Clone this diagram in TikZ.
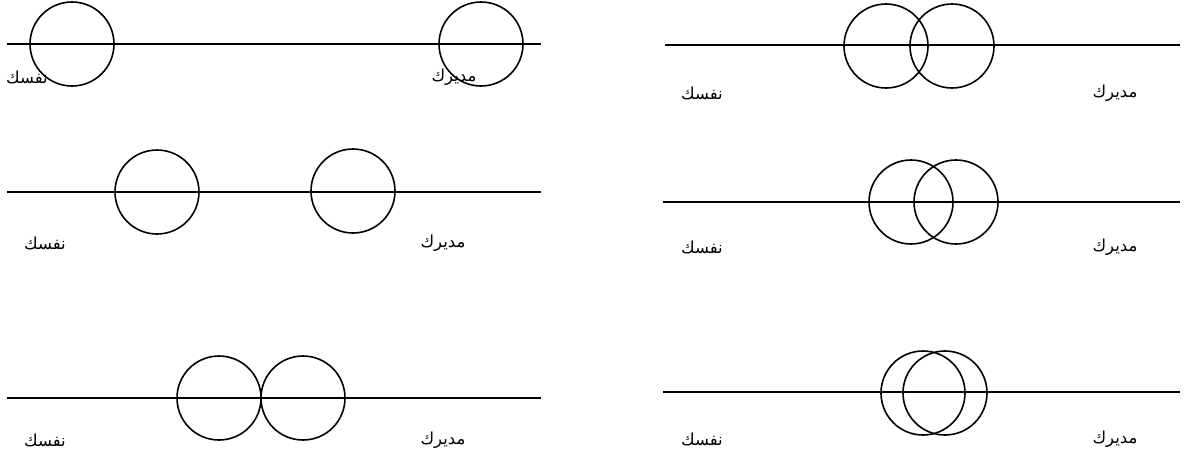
\documentclass[tikz,border=0pt]{standalone}
\usepackage{fontspec}
\newfontfamily\arabicfont[Script=Arabic]{DejaVu Sans}
\TeXXeTstate=1
\usepackage{tikz}
\usetikzlibrary{positioning}

\begin{document}
\begin{tikzpicture}[
  x=1pt,y=-1pt,
  ring/.style={circle,draw,line width=1.6pt,minimum size=84pt,inner sep=0pt},
  axis/.style={line width=1.6pt},
  lbl/.style={font=\arabicfont\fontsize{16.5}{18}\selectfont,inner sep=0pt}
]
\useasboundingbox (0,0) rectangle (1193,451);

% top left: far apart
\coordinate (tlA) at (7,44);
\coordinate (tlB) at (541,44);
\draw[axis] (tlA) -- (tlB);
\node[ring] (tlSelf) at (72,44) {};
\node[ring] (tlBoss) at (481,44) {};
\node[lbl] (tlSelfTxt) at (27,77) {\beginR نفسك\endR};
\node[lbl] (tlBossTxt) at (454,77) {\beginR مديرك\endR};

% middle left
\coordinate (mlA) at (7,192);
\coordinate (mlB) at (541,192);
\draw[axis] (mlA) -- (mlB);
\node[ring] (mlSelf) at (157,192) {};
\node[ring] (mlBoss) at (353,191) {};
\node[lbl] (mlSelfTxt) at (45,243) {\beginR نفسك\endR};
\node[lbl] (mlBossTxt) at (443,243) {\beginR مديرك\endR};

% bottom left: touching
\coordinate (blA) at (7,398);
\coordinate (blB) at (541,398);
\draw[axis] (blA) -- (blB);
\node[ring] (blSelf) at (219,398) {};
\node[ring] (blBoss) at (303,398) {};
\node[lbl] (blSelfTxt) at (45,440) {\beginR نفسك\endR};
\node[lbl] (blBossTxt) at (443,440) {\beginR مديرك\endR};

% top right: small overlap
\coordinate (trA) at (665,45);
\coordinate (trB) at (1180,45);
\draw[axis] (trA) -- (trB);
\node[ring] (trSelf) at (886,46) {};
\node[ring] (trBoss) at (952,46) {};
\node[lbl] (trSelfTxt) at (702,93) {\beginR نفسك\endR};
\node[lbl] (trBossTxt) at (1115,93) {\beginR مديرك\endR};

% middle right
\coordinate (mrA) at (663,202);
\coordinate (mrB) at (1180,202);
\draw[axis] (mrA) -- (mrB);
\node[ring] (mrSelf) at (911,202) {};
\node[ring] (mrBoss) at (956,202) {};
\node[lbl] (mrSelfTxt) at (702,247) {\beginR نفسك\endR};
\node[lbl] (mrBossTxt) at (1115,247) {\beginR مديرك\endR};

% bottom right: large overlap
\coordinate (brA) at (663,392);
\coordinate (brB) at (1180,392);
\draw[axis] (brA) -- (brB);
\node[ring] (brSelf) at (923,393) {};
\node[ring] (brBoss) at (945,393) {};
\node[lbl] (brSelfTxt) at (702,439) {\beginR نفسك\endR};
\node[lbl] (brBossTxt) at (1115,439) {\beginR مديرك\endR};
\end{tikzpicture}
\end{document}
